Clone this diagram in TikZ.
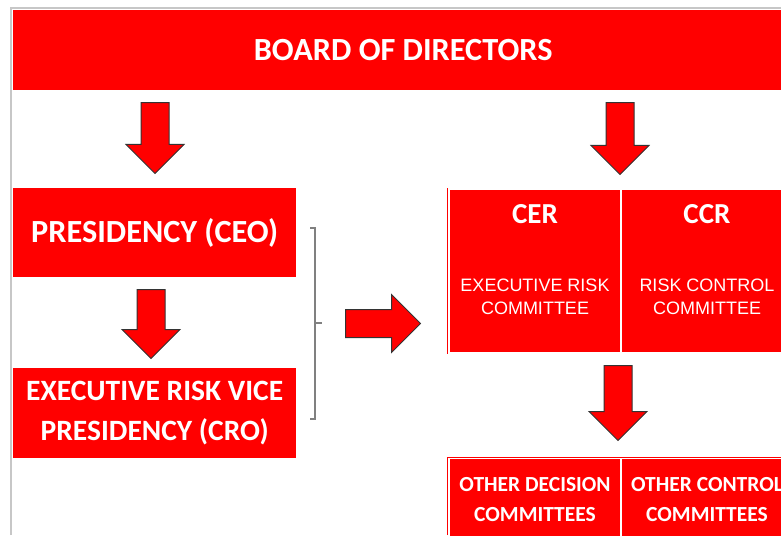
\documentclass[tikz,border=0pt]{standalone}
\usepackage{fontspec}
\setmainfont{Carlito}
\newfontfamily\arialfont{Liberation Sans}
\usetikzlibrary{shapes.arrows,positioning}

\begin{document}
\begin{tikzpicture}[x=1pt, y=-1pt,
  frame/.style={draw=black!22, line width=1.5pt},
  box/.style={fill=red, text=white, anchor=north west, inner sep=0pt, align=center,
              font=\bfseries\fontsize{32.3}{40}\selectfont},
  cell/.style={fill=red, anchor=north west, inner sep=0pt, minimum width=170pt},
  ttl/.style={text=white, inner sep=0pt, font=\bfseries\fontsize{29}{32}\selectfont},
  sub/.style={text=white, align=center, inner sep=0pt,
              font=\arialfont\fontsize{18}{23.5}\selectfont},
  small/.style={text=white, align=center, inner sep=0pt,
                font=\bfseries\fontsize{21.5}{30}\selectfont},
  blockarr/.style={single arrow, draw=black!80, fill=red, line width=1pt, anchor=tail,
                   inner xsep=0pt, inner ysep=13.5pt, single arrow head extend=15pt},
  brace/.style={draw=black!50, line width=1.3pt},
  edge/.style={draw=red, line width=1pt}
]
  \useasboundingbox (0,0) rectangle (781,535);
  % page frame
  \draw[frame] (11,535) -- (11,8) -- (781,8);

  % top: board
  \node[box, minimum width=780pt, minimum height=80pt] (board) at (13,10) {BOARD OF DIRECTORS};

  % left column
  \node[box, minimum width=283pt, minimum height=89pt] (ceo) at (13,188) {PRESIDENCY (CEO)};
  \node[box, minimum width=283pt, minimum height=90pt,
        font=\bfseries\fontsize{29.5}{40}\selectfont] (cro) at (13,368) {EXECUTIVE RISK VICE\\PRESIDENCY (CRO)};

  % right column: committees
  \draw[edge] (447,188) -- (447,354);
  \node[cell, minimum height=162pt] (cer) at (450,190) {};
  \node[cell, minimum height=162pt] (ccr) at (622,190) {};
  \node[ttl] (cerT) at (535,214) {CER};
  \node[ttl] (ccrT) at (707,214) {CCR};
  \node[sub] (cerS) at (535,297) {EXECUTIVE RISK\\COMMITTEE};
  \node[sub] (ccrS) at (707,297) {RISK CONTROL\\COMMITTEE};

  \draw[edge] (447,535) -- (447,457) -- (781,457);
  \node[cell, minimum height=80pt] (odc) at (450,459) {};
  \node[cell, minimum height=80pt] (occ) at (622,459) {};
  \node[small] (odcT) at (535,500) {OTHER DECISION\\COMMITTEES};
  \node[small] (occT) at (707,500) {OTHER CONTROL\\COMMITTEES};

  % block arrows
  \node[blockarr, minimum height=71pt, rotate=-90] (a1) at (155,102) {};
  \node[blockarr, minimum height=69pt, rotate=-90] (a2) at (151,289) {};
  \node[blockarr, minimum height=72pt, rotate=-90] (a3) at (620,102) {};
  \node[blockarr, minimum height=75pt, rotate=-90] (a4) at (618,365) {};
  \node[blockarr, minimum height=75pt] (a5) at (345,323.5) {};

  % bracket round CEO and CRO
  \draw[brace] (310,228) -- (315,228) -- (315,419) -- (310,419);
  \draw[brace] (315,323) -- (322,323);
\end{tikzpicture}
\end{document}
